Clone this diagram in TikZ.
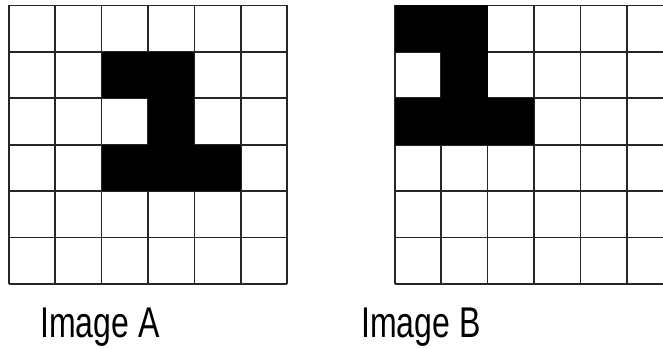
\documentclass[tikz,border=0pt]{standalone}
\usepackage{fontspec}
\setmainfont{Liberation Sans}
\begin{document}
\begin{tikzpicture}[x=1pt,y=1pt,
  gridline/.style={line width=1.6pt,draw=black!85},
  cell/.style={fill=black},
  caption/.style={anchor=base,inner sep=0pt,font=\fontsize{43}{43}\selectfont}]
\useasboundingbox (0,0) rectangle (663,348);
\clip (0,0) rectangle (663,348);
\fill[white] (0,0) rectangle (663,348);
\def\cs{46.43}
% ---- Image A ----
\begin{scope}[shift={(8.7,64)}]
  \foreach \i in {0,...,6} {
    \draw[gridline] (\i*\cs,0) -- (\i*\cs,6*\cs);
    \draw[gridline] (0,\i*\cs) -- (6*\cs,\i*\cs);
  }
  % black cells (col,row from top)
  \foreach \c/\r in {2/1,3/1,3/2,2/3,3/3,4/3}
    \fill[cell] (\c*\cs,{(5-\r)*\cs}) rectangle ({(\c+1)*\cs},{(6-\r)*\cs});
\end{scope}
% ---- Image B ----
\begin{scope}[shift={(394.7,64)}]
  \foreach \i in {0,...,6} {
    \draw[gridline] (\i*\cs,0) -- (\i*\cs,6*\cs);
    \draw[gridline] (0,\i*\cs) -- (6*\cs,\i*\cs);
  }
  \foreach \c/\r in {0/0,1/0,1/1,0/2,1/2,2/2}
    \fill[cell] (\c*\cs,{(5-\r)*\cs}) rectangle ({(\c+1)*\cs},{(6-\r)*\cs});
\end{scope}
\node[caption] (capA) at (100,11) {\scalebox{0.745}[1]{Image A}};
\node[caption] (capB) at (421,11) {\scalebox{0.745}[1]{Image B}};
\end{tikzpicture}
\end{document}
